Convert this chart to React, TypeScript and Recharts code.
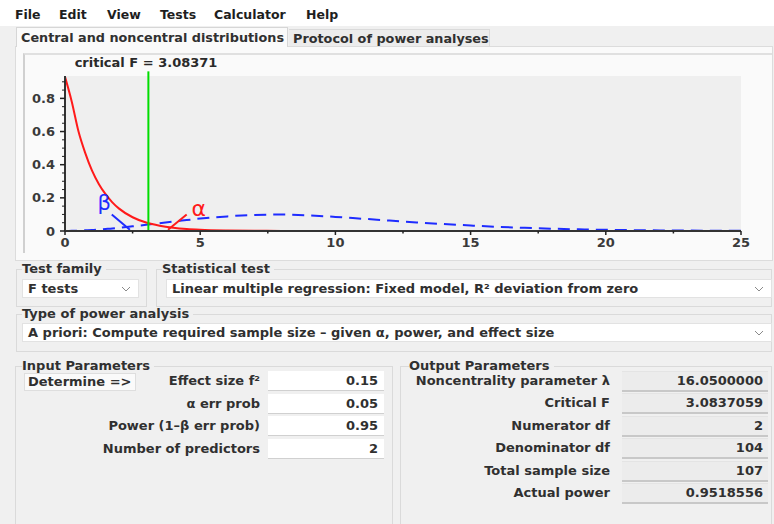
import React from 'react';
import { LineChart, Line, XAxis, YAxis, CartesianGrid, ReferenceLine, ReferenceDot } from 'recharts';

// ---- chart data ----
const xValues = [0, 0.25, 0.5, 0.75, 1, 1.25, 1.5, 1.75, 2, 2.5, 3, 3.5, 4, 4.5, 5, 6, 7, 8, 9, 10, 11, 12, 13, 14, 15, 16, 17, 18, 19, 20, 21, 22, 23, 24, 25];
const centralDensity = [0.93, 0.78, 0.6, 0.47, 0.364, 0.284, 0.222, 0.173, 0.135, 0.083, 0.051, 0.032, 0.02, 0.0123, 0.0077, 0.0031, 0.0012, 0.0005, 0.0002, 0.0001, 0, 0, 0, 0, 0, 0, 0, 0, 0, 0, 0, 0, 0, 0, 0];
const noncentralDensity = [0.0003, 0.001, 0.002, 0.004, 0.006, 0.009, 0.012, 0.015, 0.019, 0.028, 0.037, 0.047, 0.057, 0.066, 0.075, 0.088, 0.097, 0.099, 0.094, 0.085, 0.074, 0.063, 0.052, 0.042, 0.033, 0.025, 0.019, 0.014, 0.01, 0.007, 0.005, 0.0035, 0.0024, 0.0016, 0.001];
const xTicks = [0, 2.5, 5, 7.5, 10, 12.5, 15, 17.5, 20, 22.5, 25];
const yTicks = [0, 0.05, 0.1, 0.15, 0.2, 0.25, 0.3, 0.35, 0.4, 0.45, 0.5, 0.55, 0.6, 0.65, 0.7, 0.75, 0.8, 0.85, 0.9];
const criticalF = 3.08371;
const criticalLineTop = 0.963;
const betaPointer = [{ x: 1.73, y: 0.099 }, { x: 2.4, y: 0.008 }];
const alphaPointer = [{ x: 4.5, y: 0.099 }, { x: 3.81, y: 0.008 }];
const betaLabelPos = { x: 1.45, y: 0.172 };
const alphaLabelPos = { x: 4.95, y: 0.14 };

const chartData = xValues.map((x, i) => ({ x, central: centralDensity[i], noncentral: noncentralDensity[i] }));

// ---- UI text ----
const menuItems = [
  { label: 'File', left: 15 },
  { label: 'Edit', left: 59 },
  { label: 'View', left: 107 },
  { label: 'Tests', left: 160 },
  { label: 'Calculator', left: 214 },
  { label: 'Help', left: 306 },
];
const inputLabels = ['Effect size f²', 'α err prob', 'Power (1–β err prob)', 'Number of predictors'];
const inputValues = ['0.15', '0.05', '0.95', '2'];
const outputLabels = ['Noncentrality parameter λ', 'Critical F', 'Numerator df', 'Denominator df', 'Total sample size', 'Actual power'];
const outputValues = ['16.0500000', '3.0837059', '2', '104', '107', '0.9518556'];

const FONT = '"DejaVu Sans", "Noto Sans", sans-serif';
const TEXT = '#303030';

const isMultiple = (v: number, step: number) => Math.abs(v / step - Math.round(v / step)) < 1e-6;

const YTick = (props: any) => {
  const { x, y, payload } = props;
  const v = payload.value as number;
  const major = isMultiple(v, 0.2);
  return (
    <g>
      <line x1={x - (major ? 5 : 3)} x2={x} y1={y} y2={y} stroke="#222" strokeWidth={major ? 1.5 : 1} />
      {major && (
        <text x={x - 10} y={y} dy={4.5} textAnchor="end" fontSize={13} fontWeight="bold" fill="#3a3a3a" fontFamily={FONT}>
          {v === 0 ? '0' : v.toFixed(1)}
        </text>
      )}
    </g>
  );
};

const XTick = (props: any) => {
  const { x, y, payload } = props;
  const v = payload.value as number;
  const major = isMultiple(v, 5);
  return (
    <g>
      <line x1={x} x2={x} y1={y} y2={y + (major ? 4 : 2.5)} stroke="#222" strokeWidth={1.5} />
      {major && (
        <text x={x} y={y + 16} textAnchor="middle" fontSize={13} fontWeight="bold" fill="#3a3a3a" fontFamily={FONT}>
          {String(v)}
        </text>
      )}
    </g>
  );
};

const Select = ({ left, top, width, text }: { left: number; top: number; width: number; text: string }) => (
  <div style={{ position: 'absolute', left, top, width, height: 19, background: '#ffffff', border: '1px solid #e2e2e2', boxSizing: 'border-box' }}>
    <div style={{ position: 'absolute', left: 5, top: 0, lineHeight: '17px', whiteSpace: 'nowrap' }}>{text}</div>
    <svg style={{ position: 'absolute', right: 7, top: 6 }} width={10} height={6}>
      <polyline points="1,1 5,5 9,1" fill="none" stroke="#8a8a8a" strokeWidth={1} />
    </svg>
  </div>
);

const Group = ({ left, top, width, height, label, labelLeft }: { left: number; top: number; width: number; height: number; label: string; labelLeft: number }) => (
  <>
    <div style={{ position: 'absolute', left, top, width, height, border: '1px solid #dadada', boxSizing: 'border-box' }} />
    <div style={{ position: 'absolute', left: labelLeft, top: top - 7, lineHeight: '14px', background: '#f0f0f0', paddingRight: 4, whiteSpace: 'nowrap' }}>{label}</div>
  </>
);

export default function App() {
  return (
    <div style={{ position: 'absolute', left: 0, top: 0, width: 774, height: 524, background: '#f0f0f0', overflow: 'hidden', fontFamily: FONT, fontSize: 13, fontWeight: 'bold', color: TEXT }}>
      {/* menu bar */}
      <div style={{ position: 'absolute', left: 0, top: 0, width: 774, height: 26, background: '#ffffff' }} />
      {menuItems.map((m) => (
        <div key={m.label} style={{ position: 'absolute', left: m.left, top: 6, lineHeight: '18px', fontSize: 12.5, color: '#1e1e1e' }}>{m.label}</div>
      ))}

      {/* tabs */}
      <div style={{ position: 'absolute', left: 15, top: 46, width: 758, height: 215, background: '#fafafa', border: '1px solid #dcdcdc', boxSizing: 'border-box' }} />
      <div style={{ position: 'absolute', left: 16, top: 27, width: 272, height: 20, background: '#fafafa', borderTop: '1px solid #d6d6d6', borderLeft: '1px solid #d6d6d6', borderRight: '1px solid #d6d6d6', boxSizing: 'border-box' }}>
        <div style={{ position: 'absolute', left: 4, top: 1, lineHeight: '17px', whiteSpace: 'nowrap', fontSize: 12.8 }}>Central and noncentral distributions</div>
      </div>
      <div style={{ position: 'absolute', left: 289, top: 29, width: 201, height: 17, background: '#ececec', borderTop: '1px solid #dadada', borderRight: '1px solid #dadada', boxSizing: 'border-box' }}>
        <div style={{ position: 'absolute', left: 4, top: 0, lineHeight: '17px', whiteSpace: 'nowrap', fontSize: 12.8 }}>Protocol of power analyses</div>
      </div>

      {/* chart frame */}
      <div style={{ position: 'absolute', left: 23, top: 53, width: 749, height: 200, borderTop: '2px solid #e0e0e0', borderLeft: '2px solid #d0d0d0', boxSizing: 'border-box' }} />
      <div style={{ position: 'absolute', left: 146 - 90, top: 54, width: 180, textAlign: 'center', lineHeight: '17px', color: '#2a2a2a' }}>critical F = 3.08371</div>
      <div style={{ position: 'absolute', left: 23, top: 53, fontWeight: 'normal' }}>
        <LineChart width={749} height={200} data={chartData} margin={{ top: 23, right: 31, bottom: 2, left: 6 }}>
          <CartesianGrid horizontal={false} vertical={false} fill="#efefef" stroke="none" />
          <XAxis
            type="number"
            dataKey="x"
            domain={[0, 25]}
            ticks={xTicks}
            interval={0}
            tickSize={0}
            tickMargin={0}
            height={20}
            tick={<XTick />}
            axisLine={{ stroke: '#333', strokeWidth: 2 }}
            tickLine={false}
            allowDataOverflow
          />
          <YAxis
            type="number"
            domain={[0, 0.935]}
            ticks={yTicks}
            interval={0}
            tickSize={0}
            tickMargin={0}
            width={36}
            tick={<YTick />}
            axisLine={{ stroke: '#333', strokeWidth: 2 }}
            tickLine={false}
            allowDataOverflow
          />
          <Line type="monotone" dataKey="noncentral" stroke="#1e2cff" strokeWidth={2} strokeDasharray="12 7" dot={false} isAnimationActive={false} />
          <Line type="monotone" dataKey="central" stroke="#ff1a1a" strokeWidth={2} dot={false} isAnimationActive={false} />
          <ReferenceLine segment={[{ x: criticalF, y: 0 }, { x: criticalF, y: criticalLineTop }]} stroke="#00dd00" strokeWidth={2} ifOverflow="visible" />
          <ReferenceLine segment={betaPointer} stroke="#1e2cff" strokeWidth={2} ifOverflow="visible" />
          <ReferenceLine segment={alphaPointer} stroke="#ff1a1a" strokeWidth={2} ifOverflow="visible" />
          <ReferenceDot x={betaLabelPos.x} y={betaLabelPos.y} r={0} fill="none" stroke="none" ifOverflow="visible"
            label={{ value: 'β', position: 'center', fill: '#1e2cff', fontSize: 21, fontWeight: 'normal', fontFamily: FONT }} />
          <ReferenceDot x={alphaLabelPos.x} y={alphaLabelPos.y} r={0} fill="none" stroke="none" ifOverflow="visible"
            label={{ value: 'α', position: 'center', fill: '#ff1a1a', fontSize: 22, fontWeight: 'normal', fontFamily: FONT }} />
        </LineChart>
      </div>

      {/* test selection */}
      <Group left={16} top={269} width={131} height={38} label="Test family" labelLeft={22} />
      <Group left={156} top={269} width={616} height={38} label="Statistical test" labelLeft={162} />
      <Select left={22} top={279} width={117} text="F tests" />
      <Select left={166} top={279} width={606} text="Linear multiple regression: Fixed model, R² deviation from zero" />
      <Group left={16} top={314} width={756} height={38} label="Type of power analysis" labelLeft={22} />
      <Select left={22} top={323} width={750} text="A priori: Compute required sample size – given α, power, and effect size" />

      {/* input parameters */}
      <Group left={15} top={366} width={378} height={170} label="Input Parameters" labelLeft={22} />
      <div style={{ position: 'absolute', left: 24, top: 373, width: 112, height: 18, background: '#fafafa', border: '1px solid #dedede', boxSizing: 'border-box' }}>
        <div style={{ position: 'absolute', left: 3, top: 0, lineHeight: '16px', whiteSpace: 'nowrap' }}>Determine =&gt;</div>
      </div>
      {inputLabels.map((l, i) => (
        <React.Fragment key={l}>
          <div style={{ position: 'absolute', right: 774 - 260, top: 373 + i * 22.5, lineHeight: '16px', whiteSpace: 'nowrap' }}>{l}</div>
          <div style={{ position: 'absolute', left: 268, top: 371 + i * 22.5, width: 116, height: 20, background: '#ffffff', borderBottom: '1px solid #d0d0d0', boxSizing: 'border-box' }}>
            <div style={{ position: 'absolute', right: 6, top: 2, lineHeight: '16px' }}>{inputValues[i]}</div>
          </div>
        </React.Fragment>
      ))}

      {/* output parameters */}
      <Group left={400} top={366} width={372} height={170} label="Output Parameters" labelLeft={409} />
      {outputLabels.map((l, i) => (
        <React.Fragment key={l}>
          <div style={{ position: 'absolute', right: 774 - 610, top: 373 + i * 22.4, lineHeight: '16px', whiteSpace: 'nowrap' }}>{l}</div>
          <div style={{ position: 'absolute', left: 622, top: 371 + i * 22.4, width: 146, height: 21, background: '#ececec', borderTop: '1px solid #e4e4e4', borderBottom: '2px solid #c8c8c8', boxSizing: 'border-box' }}>
            <div style={{ position: 'absolute', right: 5, top: 1, lineHeight: '16px' }}>{outputValues[i]}</div>
          </div>
        </React.Fragment>
      ))}
    </div>
  );
}
